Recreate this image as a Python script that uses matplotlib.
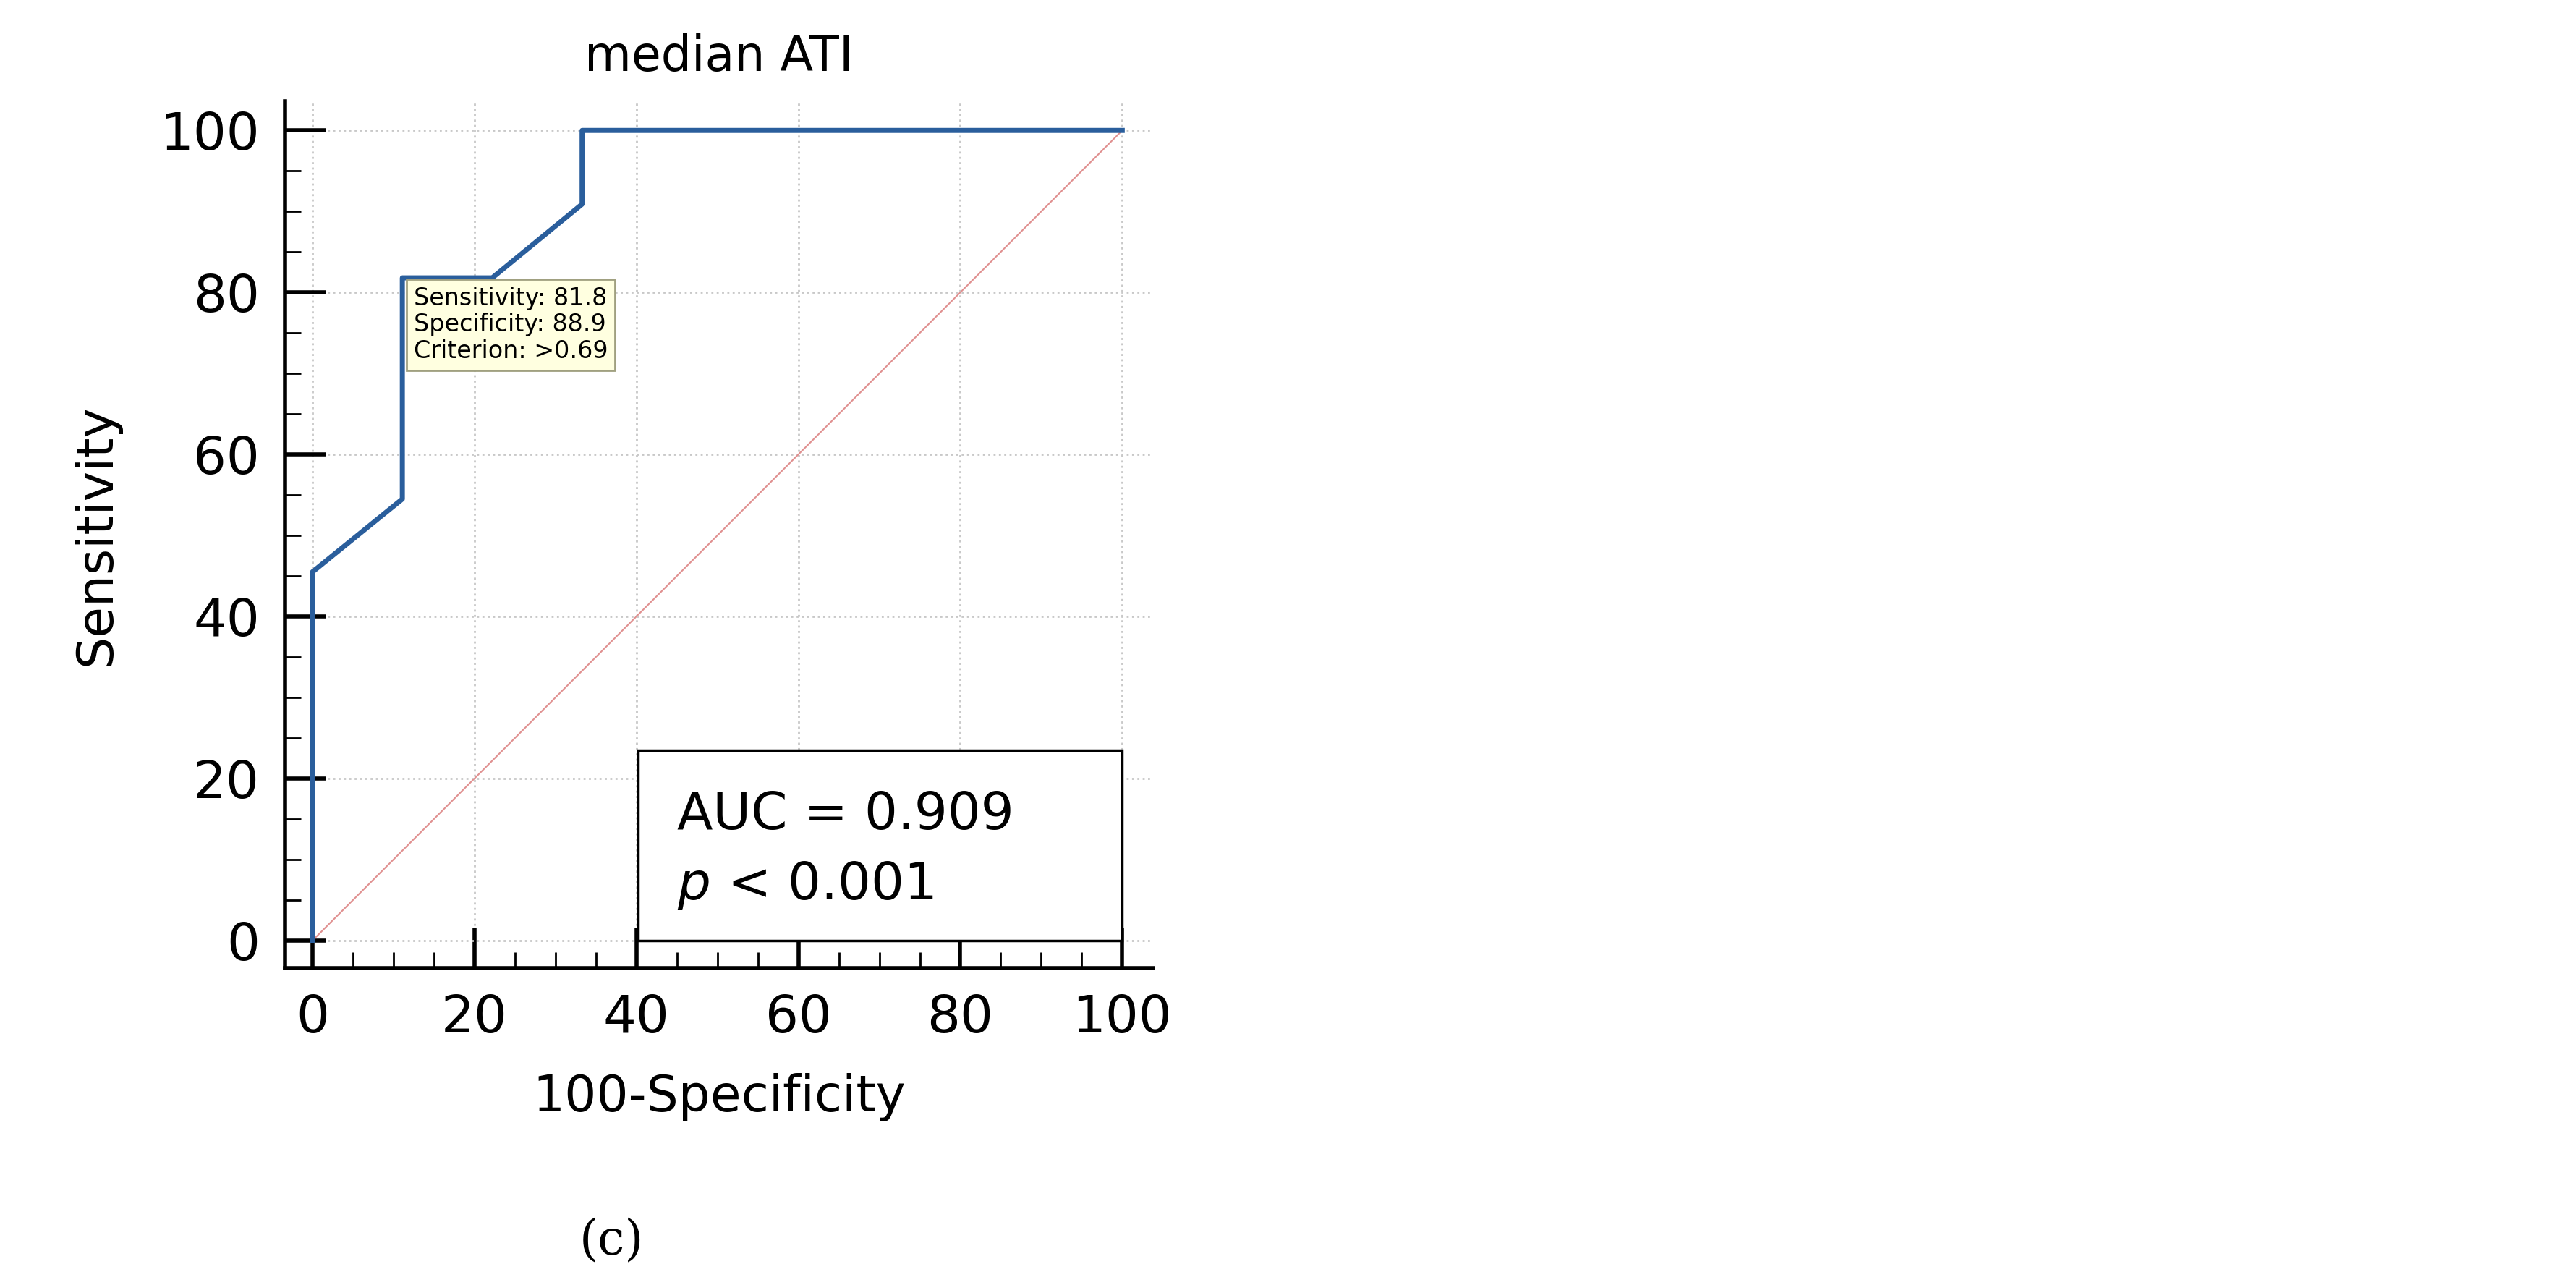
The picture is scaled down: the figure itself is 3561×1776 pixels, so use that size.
import matplotlib
matplotlib.use("Agg")
import matplotlib.pyplot as plt
from matplotlib.patches import Rectangle

fpr = [0, 0, 11.1, 11.1, 22.2, 33.3, 33.3, 100]
tpr = [0, 45.5, 54.5, 81.8, 81.8, 90.9, 100, 100]
ticks = [0, 20, 40, 60, 80, 100]
title = "median ATI"

fig = plt.figure(figsize=(35.61, 17.76), dpi=100)
ax = fig.add_axes([0.1106, 0.2466, 0.337, 0.6746])
ax.set_xlim(-3.4, 103.8)
ax.set_ylim(-3.4, 103.6)
for s in ["top", "right"]:
    ax.spines[s].set_visible(False)
for s in ["left", "bottom"]:
    ax.spines[s].set_linewidth(4)
ax.set_xticks(ticks)
ax.set_yticks(ticks)
ax.set_xticks(range(0, 101, 5), minor=True)
ax.set_yticks(range(0, 101, 5), minor=True)
ax.tick_params(which="major", direction="in", length=40, width=4, labelsize=52, pad=25)
ax.tick_params(which="minor", direction="in", length=16, width=2)
ax.grid(True, which="major", color="#c8c8c8", linestyle=":", linewidth=2)
ax.plot([0, 100], [0, 100], color="#e09090", linewidth=1.5)
ax.plot(fpr, tpr, color="#2a5e9c", linewidth=5)
ax.set_title(title, fontsize=48, pad=30)
ax.set_xlabel("100-Specificity", fontsize=50, labelpad=30)
ax.set_ylabel("Sensitivity", fontsize=50, labelpad=40)

ax.add_patch(Rectangle((40.2, 0), 59.8, 23.5, facecolor="white", edgecolor="black", linewidth=2.5, zorder=5))
ax.text(45, 15.5, "AUC = 0.909", fontsize=52, va="center", zorder=6)
ax.text(45, 6.8, r"$\mathit{p}$ < 0.001", fontsize=52, va="center", zorder=6)

ax.text(12.5, 76, "Sensitivity: 81.8\nSpecificity: 88.9\nCriterion: >0.69", fontsize=24, va="center",
        linespacing=1.15, zorder=6,
        bbox=dict(boxstyle="square,pad=0.3", facecolor="#ffffe0", edgecolor="#a0a080", linewidth=2))

fig.text(845 / 3561, 1 - 1715 / 1776, "(c)", fontsize=48, ha="center", va="center", family="DejaVu Serif")
fig.text(862 / 3561, 1 - 1715 / 1776, "", fontsize=1)
fig.savefig("out.png", dpi=100)
